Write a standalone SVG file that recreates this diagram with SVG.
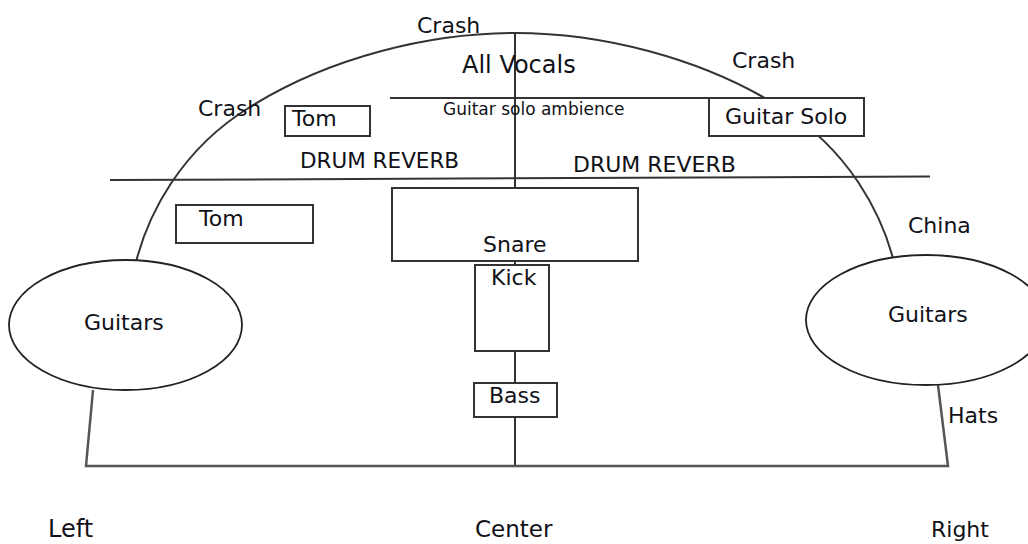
<svg xmlns="http://www.w3.org/2000/svg" width="1028" height="544" viewBox="0 0 1028 544">
<style>
  text { font-family: "DejaVu Sans", Verdana, sans-serif; font-size: 22px; fill: #111118; }
  .ln { fill: none; stroke: #333; stroke-width: 2; }
  .base { fill: none; stroke: #555; stroke-width: 2.5; stroke-linejoin: miter; }
  .box { fill: #fff; stroke: #333; stroke-width: 2; }
  .ell { fill: #fff; stroke: #222; stroke-width: 1.8; }
</style>
<rect width="1028" height="544" fill="#fff"/>
<g id="connectors">
  <path id="arc" class="ln" d="M 136 262 C 148 215, 180 150, 250 107 C 330 57, 430 33, 515 33 C 600 33, 700 57, 780 107 C 850 150, 882 215, 894 262"/>
  <line class="ln" x1="390" y1="98" x2="709" y2="98"/>
  <line class="ln" x1="110" y1="180" x2="930" y2="176.5"/>
  <line class="ln" x1="515" y1="33" x2="515" y2="466"/>
  <polyline class="base" points="93,390 86,466 948,466 938,385"/>
</g>
<g id="labels">
  <text x="417" y="33">Crash</text>
  <text x="462" y="73" style="font-size:24px">All Vocals</text>
  <text x="732" y="68">Crash</text>
  <text x="198" y="116">Crash</text>
  <text x="443" y="115" style="font-size:17px">Guitar solo ambience</text>
  <text x="300" y="168" style="font-size:21.5px">DRUM REVERB</text>
  <text x="573" y="172">DRUM REVERB</text>
  <text x="908" y="233">China</text>
  <text x="948" y="423">Hats</text>
  <text x="48" y="537" style="font-size:24px">Left</text>
  <text x="475" y="537" style="font-size:23px">Center</text>
  <text x="931" y="537">Right</text>
</g>
<g id="tom-upper">
  <rect class="box" x="285" y="106" width="85" height="30"/>
  <text x="292" y="126">Tom</text>
</g>
<g id="guitar-solo">
  <rect class="box" x="709" y="98" width="155" height="38"/>
  <text x="725" y="124">Guitar Solo</text>
</g>
<g id="tom-lower">
  <rect class="box" x="176" y="205" width="137" height="38"/>
  <text x="199" y="226">Tom</text>
</g>
<g id="snare">
  <rect class="box" x="392" y="188" width="246" height="73"/>
  <text x="483" y="252">Snare</text>
</g>
<g id="kick">
  <rect class="box" x="475" y="265" width="74" height="86"/>
  <text x="491" y="285">Kick</text>
</g>
<g id="bass">
  <rect class="box" x="474" y="383" width="83" height="34"/>
  <text x="489" y="403">Bass</text>
</g>
<g id="guitars-left">
  <ellipse class="ell" cx="125.5" cy="325" rx="116.5" ry="65"/>
  <text x="84" y="330">Guitars</text>
</g>
<g id="guitars-right">
  <ellipse class="ell" cx="926" cy="320" rx="120" ry="65"/>
  <text x="888" y="322">Guitars</text>
</g>
</svg>
